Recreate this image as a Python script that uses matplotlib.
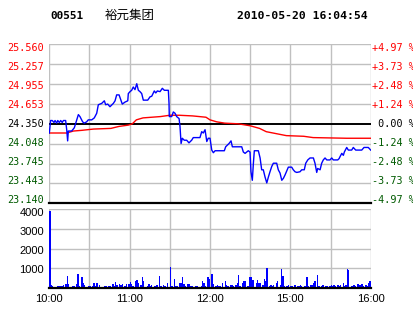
import matplotlib
matplotlib.use("Agg")
import matplotlib.pyplot as plt

# ---- data (minutes since 10:00 in trading time, 240 = 16:00) ----
code = "00551"
name = "裕元集团"
stamp = "2010-05-20 16:04:54"
prev_close = 24.350

price_ticks = [25.560, 25.257, 24.955, 24.653, 24.350, 24.048, 23.745, 23.443, 23.140]
pct_labels = ["+4.97", "+3.73", "+2.48", "+1.24", "0.00", "-1.24", "-2.48", "-3.73", "-4.97"]
time_ticks = [0, 60, 120, 180, 240]
time_labels = ["10:00", "11:00", "12:00", "15:00", "16:00"]
vol_ticks = [1000, 2000, 3000, 4000]

price_min = [0, 1.0, 2.2, 3.5, 4.3, 5.5, 6.3, 7.5, 8.5, 9.7, 10.5, 12.2, 13.0, 13.7, 14.2, 16.7,
             18.7, 21.7, 22.9, 24.9, 26.1, 27.9, 29.1, 31.7, 33.6, 35.4, 36.6, 39.1, 41.1, 42.1,
             43.6, 45.3, 47.8, 49.1, 50.3, 52.1, 53.5, 54.5, 56.5, 58.6, 59.0, 60.3, 61.5, 62.7,
             64.0, 65.3, 66.5, 67.7, 69.0, 70.2, 73.5, 75.2, 76.5, 78.4, 79.5, 80.7, 82.7, 84.4,
             85.9, 88.9, 89.4, 89.6, 91.4, 92.6, 93.9, 95.1, 96.9, 97.6, 98.4, 99.3, 100.8, 102.6,
             104.3, 106.3, 107.5, 112.5, 113.8, 115.0, 116.3, 117.6, 118.7, 120.0, 121.3, 122.5,
             123.8, 130.7, 131.7, 133.2, 134.2, 135.7, 136.7, 143.7, 144.9, 146.2, 148.6, 149.9,
             150.6, 151.6, 152.4, 153.1, 156.1, 157.4, 158.6, 159.8, 161.1, 162.4, 163.6, 164.8,
             166.1, 167.3, 169.8, 171.0, 172.3, 173.6, 174.8, 176.0, 178.5, 181.0, 182.2, 183.5,
             184.8, 187.2, 188.5, 190.4, 191.5, 193.0, 194.7, 197.2, 198.4, 199.7, 200.4, 202.2,
             203.4, 204.6, 205.9, 207.2, 209.6, 210.9, 212.1, 215.4, 216.4, 217.1, 218.4, 219.6,
             220.3, 222.1, 223.3, 225.8, 227.0, 228.8, 233.3, 235.0, 238.2, 240.0]
price_val = [24.21, 24.40, 24.40, 24.37, 24.40, 24.36, 24.40, 24.37, 24.40, 24.37, 24.40, 24.40,
             24.26, 24.09, 24.24, 24.24, 24.29, 24.49, 24.46, 24.38, 24.36, 24.38, 24.41, 24.41,
             24.44, 24.51, 24.64, 24.66, 24.70, 24.64, 24.65, 24.61, 24.66, 24.70, 24.79, 24.79,
             24.71, 24.65, 24.68, 24.70, 24.81, 24.84, 24.86, 24.91, 24.87, 24.96, 24.86, 24.84,
             24.81, 24.71, 24.71, 24.76, 24.77, 24.85, 24.82, 24.85, 24.84, 24.89, 24.86, 24.86,
             24.66, 24.46, 24.46, 24.53, 24.51, 24.46, 24.43, 24.31, 24.05, 24.13, 24.10, 24.10,
             24.06, 24.10, 24.14, 24.14, 24.23, 24.21, 24.26, 24.08, 24.13, 24.13, 23.95, 23.91,
             23.94, 23.94, 24.00, 24.03, 24.05, 24.09, 24.00, 24.00, 23.92, 23.90, 23.94, 23.92,
             23.62, 23.49, 23.75, 23.94, 23.94, 23.83, 23.65, 23.65, 23.54, 23.45, 23.54, 23.62,
             23.70, 23.75, 23.75, 23.65, 23.60, 23.49, 23.52, 23.57, 23.69, 23.69, 23.65, 23.62,
             23.61, 23.62, 23.65, 23.65, 23.75, 23.80, 23.83, 23.83, 23.75, 23.61, 23.67, 23.65,
             23.75, 23.80, 23.83, 23.80, 23.80, 23.83, 23.80, 23.80, 23.82, 23.85, 23.90, 23.87,
             23.92, 23.99, 23.95, 23.95, 23.99, 23.95, 23.95, 23.99, 23.99, 23.95]

avg_min = [0, 13, 18, 24, 33, 46, 52, 59, 62, 65, 70, 83, 90, 97, 107, 117, 120, 125, 131,
           141, 150, 157, 162, 172, 177, 190, 197, 222, 240]
avg_val = [24.21, 24.21, 24.24, 24.25, 24.27, 24.28, 24.31, 24.33, 24.35, 24.41, 24.44, 24.46,
           24.48, 24.48, 24.47, 24.45, 24.41, 24.38, 24.36, 24.35, 24.32, 24.28, 24.23, 24.19,
           24.17, 24.16, 24.14, 24.13, 24.13]

vol_min = [0, 1, 2, 6, 7, 8, 9, 10, 12, 13, 14, 17, 18, 20, 21, 22, 24, 25, 26, 29, 30, 32, 33,
           34, 35, 37, 41, 42, 44, 45, 47, 48, 49, 50, 52, 53, 54, 56, 57, 59, 60, 61, 62, 64,
           65, 66, 68, 69, 70, 73, 74, 75, 76, 78, 79, 80, 82, 83, 85, 86, 88, 90, 91, 93, 94,
           95, 97, 98, 99, 100, 101, 103, 104, 105, 106, 109, 110, 113, 114, 115, 116, 118, 119,
           121, 122, 124, 125, 126, 127, 129, 131, 132, 133, 135, 136, 137, 139, 140, 141, 142,
           144, 145, 146, 148, 149, 150, 151, 152, 154, 155, 156, 157, 159, 160, 161, 162, 164,
           165, 166, 167, 169, 170, 172, 173, 174, 175, 177, 178, 180, 181, 183, 185, 186, 187,
           188, 190, 191, 192, 193, 195, 196, 197, 198, 200, 201, 203, 204, 206, 207, 209, 210,
           211, 212, 213, 215, 216, 217, 219, 220, 221, 222, 223, 225, 226, 227, 228, 230, 231,
           232, 233, 234, 236, 237, 238, 239]
vol_val = [3900, 150, 100, 100, 100, 100, 100, 150, 200, 600, 200, 100, 100, 200, 700, 100, 550,
           250, 150, 100, 100, 100, 250, 100, 250, 150, 100, 100, 100, 100, 200, 100, 300, 150,
           200, 150, 200, 100, 200, 200, 300, 200, 100, 350, 400, 250, 150, 550, 350, 100, 200,
           100, 150, 100, 100, 150, 600, 100, 150, 100, 250, 1050, 100, 450, 100, 100, 250, 250,
           550, 200, 100, 200, 200, 100, 100, 100, 100, 100, 350, 250, 100, 550, 450, 700, 200,
           100, 150, 100, 100, 250, 350, 150, 100, 150, 150, 100, 150, 250, 680, 100, 250, 350,
           380, 100, 550, 570, 430, 400, 250, 400, 250, 250, 150, 450, 350, 1000, 100, 150, 100,
           150, 250, 350, 150, 960, 600, 100, 100, 150, 100, 100, 150, 100, 100, 150, 100, 100,
           100, 570, 100, 150, 150, 250, 350, 680, 100, 100, 150, 100, 100, 100, 150, 100, 150,
           100, 150, 100, 150, 250, 100, 150, 960, 930, 100, 100, 150, 100, 200, 150, 150, 200,
           100, 150, 100, 250, 350]

RED = "#ff0000"
GREEN = "#005a00"
BLUE = "#0000ff"
GRID = "#c0c0c0"

fig = plt.figure(figsize=(4.14, 3.14), dpi=100)
ax = fig.add_axes([49.3 / 414, 1 - 203.3 / 314, 321.4 / 414, 159 / 314])
axv = fig.add_axes([49.3 / 414, 1 - 288 / 314, 321.4 / 414, 78.7 / 314])

lo, hi = price_ticks[-1], price_ticks[0]

# price panel
ax.set_xlim(0, 240)
ax.set_ylim(lo, hi)
for t in range(0, 241, 30):
    ax.axvline(t, color=GRID, lw=1.0, zorder=1)
for p in price_ticks:
    if p == prev_close or p == lo:
        continue
    ax.axhline(p, color=GRID, lw=1.0, zorder=1)
ax.axhline(prev_close, color="black", lw=1.4, zorder=2)
ax.axhline(lo, color="black", lw=1.6, zorder=4, clip_on=False)
ax.plot(avg_min, avg_val, color=RED, lw=1.0, zorder=3)
ax.plot(price_min, price_val, color=BLUE, lw=1.0, zorder=3)
for s in ax.spines.values():
    s.set_visible(False)
ax.set_xticks([])
ax.set_yticks([])

for p, pct in zip(price_ticks, pct_labels):
    if p > prev_close + 1e-6:
        c = RED
    elif p < prev_close - 1e-6:
        c = GREEN
    else:
        c = "black"
    yf = 0.022 + 0.956 * (p - lo) / (hi - lo)
    ax.text(-0.017, yf, f"{p:.3f}", transform=ax.transAxes, ha="right", va="center",
            color=c, fontsize=7.3, family="DejaVu Sans Mono")
    txt = pct if pct.startswith(("+", "-")) else " " + pct
    ax.text(1.003, yf, txt + " %", transform=ax.transAxes, ha="left", va="center",
            color=c, fontsize=7.3, family="DejaVu Sans Mono")

# volume panel
axv.set_xlim(0, 240)
axv.set_ylim(0, 4000)
for t in range(0, 241, 30):
    axv.axvline(t, color=GRID, lw=1.0, zorder=1)
for v in vol_ticks:
    axv.axhline(v, color=GRID, lw=1.0, zorder=1)
axv.axhline(0, color="black", lw=1.6, zorder=4, clip_on=False)
axv.bar(vol_min, vol_val, width=1.0, color=BLUE, align="edge", zorder=3,
        linewidth=0, antialiased=False)
for s in axv.spines.values():
    s.set_visible(False)
axv.set_yticks([])
for v in vol_ticks:
    yf = -0.011 + 0.96 * v / 4000
    axv.text(-0.017, yf, str(v), transform=axv.transAxes, ha="right", va="center",
             fontsize=8, family="Liberation Sans")
axv.set_xticks(time_ticks)
axv.set_xticklabels(time_labels, fontsize=8, family="Liberation Sans")
axv.tick_params(axis="x", length=0, pad=4)

# header
fig.text(50 / 414, 1 - 16 / 314, code, ha="left", va="center", fontsize=7.9,
         fontweight="bold", family="DejaVu Sans Mono")
fig.text(105 / 414, 1 - 15 / 314, name, ha="left", va="center", fontsize=9,
         family=["Noto Sans CJK SC", "DejaVu Sans"])
fig.text(237.5 / 414, 1 - 16 / 314, stamp, ha="left", va="center", fontsize=8.2,
         fontweight="bold", family="DejaVu Sans Mono")

fig.savefig("out.png", dpi=100)
